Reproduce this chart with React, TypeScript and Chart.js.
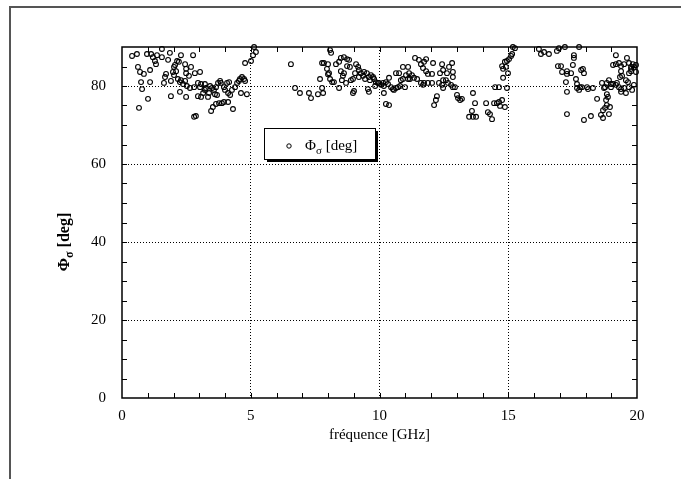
import React, { useEffect, useRef } from "react";
import { Chart, registerables } from "chart.js";

Chart.register(...registerables);

const freqGHz: number[] = [
  0.39, 0.58, 0.62, 0.7, 0.85, 0.74, 0.78, 1.01, 0.66, 0.97, 1.13, 1.2, 1.36, 1.28, 1.32, 1.09, 1.09, 1.55, 1.55, 1.79,
  1.86, 1.98, 1.71, 1.67, 1.63, 1.9, 1.9, 2.02, 2.06, 2.14, 2.21, 2.29, 2.1, 2.02, 2.17, 2.25, 2.29, 2.25, 2.37, 2.45,
  2.49, 2.49, 2.6, 2.68, 2.76, 2.45, 2.52, 2.64, 2.8, 2.49, 2.83, 3.03, 2.95, 3.07, 3.22, 3.03, 2.95, 2.8, 2.87, 3.26,
  3.22, 3.15, 3.07, 3.38, 3.34, 3.46, 3.53, 3.65, 3.77, 3.88, 3.42, 3.5, 3.57, 3.65, 3.73, 3.81, 3.84, 3.61, 3.69,
  4.08, 4.16, 3.96, 4.0, 4.12, 4.2, 4.27, 4.39, 4.47, 4.54, 4.58, 4.66, 4.74, 4.78, 4.62, 4.85, 3.96, 4.12, 4.31, 4.78,
  5.01, 5.09, 5.13, 5.2, 6.56, 6.72, 6.91, 7.26, 7.34, 7.61, 7.81, 7.77, 7.69, 7.77, 7.84, 7.96, 8.0,
  8.08, 8.12, 8.0, 8.04, 8.08, 8.16, 8.23, 8.31, 8.43, 8.5, 8.62, 8.74, 8.82, 8.74, 8.85, 8.5, 8.62, 8.58, 8.54, 8.43,
  8.89, 8.97, 9.09, 9.17, 9.05, 9.2, 9.28, 9.36, 9.2, 9.4, 9.51, 9.44, 9.59, 9.67, 9.75, 9.63, 9.79, 9.86, 9.94, 9.98,
  9.83, 10.06, 10.14, 10.17, 10.25, 10.33, 10.37, 10.45, 10.52, 10.56, 10.64, 10.72, 10.8, 10.99, 10.83, 10.91, 10.64,
  10.76, 10.91, 11.11, 11.03, 11.15, 11.26, 11.11, 11.18, 11.34, 11.46, 11.38, 11.53, 11.61, 11.73, 11.81, 11.69, 11.81,
  11.88, 11.61, 11.73, 11.88, 11.69, 8.7, 9.01, 8.97, 9.55, 9.59, 10.25, 10.37, 10.17,
  12.08, 12.04, 12.04, 12.23, 12.19, 12.12, 12.31, 12.43, 12.47, 12.47, 12.58, 12.66, 12.78, 12.85, 12.93, 12.85, 12.43,
  12.35, 12.47, 12.62, 12.7, 12.82, 12.85, 13.01, 13.05, 13.13, 13.2, 13.63, 13.71, 13.59, 13.48, 13.63, 13.75, 14.14,
  14.21, 14.29, 14.37, 14.45, 14.56, 14.64, 14.76, 14.68, 14.87, 14.49, 14.64, 14.8, 14.76, 14.8, 14.91, 14.99, 14.87,
  14.95, 15.03, 15.11, 15.15, 15.18, 15.26, 14.95,
  16.19, 16.27, 16.39, 16.58, 16.89, 16.97, 17.2, 17.75, 17.55, 17.55, 17.51, 16.93, 17.05, 17.09, 17.28, 17.28, 17.44,
  17.83, 17.9, 17.94, 17.63, 17.24, 17.28, 17.67, 17.79, 17.67, 17.86, 18.06, 18.1, 17.75, 18.29, 18.45, 18.72, 18.64,
  18.76, 18.83, 18.91, 18.99, 18.99, 19.07, 19.18, 19.22, 19.3, 19.38, 19.5, 19.57, 19.69, 19.38, 18.83, 18.87, 18.8,
  18.83, 18.68, 18.76, 18.95, 18.91, 18.6, 17.28, 18.21, 18.68, 17.94, 19.07, 19.18, 19.3, 19.38, 19.5, 19.61, 19.69,
  19.77, 19.88, 19.77, 19.84, 19.96, 19.18, 19.38, 19.42, 19.34, 19.77, 19.69, 19.57, 19.88, 19.96, 19.81, 19.65,
];

const phiDeg: number[] = [
  87.7, 88.2, 84.9, 83.6, 83.1, 81.0, 79.2, 76.7, 74.4, 88.2, 88.2, 87.4, 87.9, 86.4, 85.6, 84.1, 81.0, 89.5, 87.4, 86.7,
  88.5, 83.6, 83.1, 82.3, 80.8, 81.3, 77.4, 84.9, 85.4, 86.4, 86.2, 87.9, 83.8, 82.8, 81.8, 81.0, 81.5, 78.5, 80.5, 85.6,
  84.4, 83.3, 82.6, 84.9, 87.9, 81.3, 80.0, 79.5, 79.7, 77.2, 83.3, 83.6, 80.8, 80.5, 80.5, 79.7, 77.4, 72.1, 72.3, 79.5,
  79.0, 78.2, 77.2, 78.2, 77.2, 73.6, 74.6, 75.4, 75.6, 75.6, 80.0, 79.5, 79.0, 79.7, 80.8, 81.3, 80.8, 77.9, 77.7,
  80.8, 81.0, 79.7, 79.0, 78.2, 77.7, 79.0, 79.7, 80.8, 81.3, 81.8, 82.3, 81.8, 81.3, 78.2, 77.9, 75.9, 75.9, 74.1, 85.9,
  86.4, 87.9, 90.0, 88.7, 85.6, 79.5, 78.2, 78.2, 76.9, 77.9, 78.2, 79.5, 81.8, 85.9, 85.9, 84.4, 83.0,
  89.2, 88.5, 85.6, 83.3, 81.8, 81.0, 81.0, 85.6, 86.2, 87.2, 87.4, 86.9, 86.7, 85.1, 84.9, 83.8, 83.3, 82.6, 81.5, 79.5,
  81.5, 81.8, 85.6, 84.9, 83.3, 84.1, 83.3, 82.6, 82.3, 83.6, 83.3, 81.8, 82.3, 82.8, 82.3, 81.5, 81.8, 81.0, 80.8, 80.8,
  80.0, 80.3, 80.8, 80.0, 81.0, 80.5, 82.1, 79.7, 79.2, 79.0, 79.5, 79.7, 80.0, 79.7, 81.5, 81.8, 83.3,
  83.3, 84.9, 84.9, 82.8, 83.3, 82.8, 81.8, 81.8, 82.1, 81.8, 87.2, 86.7, 85.6, 86.2, 86.9, 84.6, 83.8,
  83.1, 80.8, 80.8, 80.8, 80.3, 80.8, 78.7, 78.2, 79.2, 78.5, 75.4, 75.1, 78.2,
  85.9, 83.1, 80.8, 77.4, 76.4, 75.1, 80.8, 80.3, 79.5, 81.5, 81.5, 80.8, 80.3, 79.7, 79.7, 82.3, 85.6,
  83.3, 84.1, 83.3, 84.9, 85.9, 83.6, 77.7, 76.9, 76.4, 76.7, 78.2, 75.6, 73.6, 72.1, 72.1, 72.1, 75.6,
  73.3, 72.8, 71.5, 75.6, 75.6, 75.9, 76.4, 74.9, 74.6, 79.7, 79.7, 82.1, 85.1, 84.4, 84.9, 83.3, 86.2,
  86.4, 86.9, 87.7, 88.2, 90.0, 89.7, 79.5,
  89.5, 88.2, 88.7, 88.2, 89.0, 89.7, 90.0, 90.0, 87.9, 87.2, 85.4, 85.1, 85.1, 83.6, 83.8, 83.1, 83.3,
  84.1, 84.4, 83.3, 81.8, 81.0, 78.5, 80.5, 79.7, 79.5, 79.7, 79.7, 79.2, 79.0, 79.5, 76.7, 79.5, 80.8,
  79.7, 80.8, 81.5, 80.5, 79.7, 80.5, 80.3, 80.8, 79.7, 79.2, 79.5, 78.2, 79.7, 78.5, 77.9, 77.2, 76.4,
  75.1, 73.8, 74.4, 74.6, 72.8, 72.6, 72.8, 72.3, 71.8, 71.3, 85.4, 85.6, 85.9, 85.1, 85.6, 87.2, 85.9,
  84.9, 84.9, 84.4, 85.6, 85.4, 87.9, 83.8, 82.6, 82.3, 83.8, 83.3, 81.5, 80.3, 83.6, 79.0, 81.0,
];

const xTickValues: number[] = [0, 5, 10, 15, 20];
const yTickValues: number[] = [0, 20, 40, 60, 80];
const xAxisTitle = "fréquence [GHz]";
const seriesMain = "Φ";
const seriesSub = "σ";
const seriesUnit = " [deg]";

const SERIF = "'Liberation Serif', 'Times New Roman', serif";

function drawPhiLabel(ctx: CanvasRenderingContext2D, size: number, bold: boolean, cx: number, cy: number, align: "center" | "left") {
  const w = bold ? "bold " : "";
  const mainFont = `${w}${size}px ${SERIF}`;
  const subFont = `${w}${Math.round(size * 0.72)}px ${SERIF}`;
  ctx.font = mainFont;
  const w1 = ctx.measureText(seriesMain).width;
  const w3 = ctx.measureText(seriesUnit).width;
  ctx.font = subFont;
  const w2 = ctx.measureText(seriesSub).width;
  const total = w1 + w2 + w3;
  let x = align === "center" ? cx - total / 2 : cx;
  ctx.textBaseline = "alphabetic";
  ctx.textAlign = "left";
  ctx.fillStyle = "#000";
  ctx.font = mainFont;
  ctx.fillText(seriesMain, x, cy);
  x += w1;
  ctx.font = subFont;
  ctx.fillText(seriesSub, x, cy + size * 0.25);
  x += w2;
  ctx.font = mainFont;
  ctx.fillText(seriesUnit, x, cy);
}

const decorPlugin = {
  id: "decor",
  beforeDraw(chart: any) {
    const ctx = chart.ctx as CanvasRenderingContext2D;
    ctx.save();
    ctx.fillStyle = "#fff";
    ctx.fillRect(0, 0, chart.width, chart.height);
    ctx.fillStyle = "#555";
    ctx.fillRect(9, 6, chart.width, 2);
    ctx.fillRect(9, 6, 2, chart.height);
    ctx.restore();
  },
  afterDraw(chart: any) {
    const ctx = chart.ctx as CanvasRenderingContext2D;
    const { left, right, top, bottom } = chart.chartArea;
    const xs = chart.scales.x;
    const ys = chart.scales.y;
    ctx.save();
    // frame
    ctx.strokeStyle = "#000";
    ctx.lineWidth = 1.5;
    ctx.strokeRect(left, top, right - left, bottom - top);
    // minor ticks
    ctx.lineWidth = 1;
    ctx.beginPath();
    for (let v = 1; v < 20; v++) {
      const px = Math.round(xs.getPixelForValue(v)) + 0.5;
      ctx.moveTo(px, bottom);
      ctx.lineTo(px, bottom - 5);
      ctx.moveTo(px, top);
      ctx.lineTo(px, top + 5);
    }
    for (let v = 5; v < 90; v += 5) {
      const py = Math.round(ys.getPixelForValue(v)) + 0.5;
      ctx.moveTo(left, py);
      ctx.lineTo(left + 5, py);
      ctx.moveTo(right, py);
      ctx.lineTo(right - 5, py);
    }
    ctx.stroke();
    // y axis title
    ctx.save();
    ctx.translate(69, 242);
    ctx.rotate(-Math.PI / 2);
    drawPhiLabel(ctx, 16, true, 0, 0, "center");
    ctx.restore();
    // legend box with shadow
    const bx = 264, by = 128, bw = 111, bh = 31;
    ctx.fillStyle = "#000";
    ctx.fillRect(bx + 3, by + 3, bw, bh);
    ctx.fillStyle = "#fff";
    ctx.fillRect(bx, by, bw, bh);
    ctx.strokeStyle = "#000";
    ctx.lineWidth = 1;
    ctx.strokeRect(bx + 0.5, by + 0.5, bw, bh);
    ctx.beginPath();
    ctx.arc(289, 146, 2.2, 0, Math.PI * 2);
    ctx.stroke();
    drawPhiLabel(ctx, 15, false, 305, 150, "left");
    ctx.restore();
  },
};

export default function App() {
  const ref = useRef<HTMLCanvasElement | null>(null);
  useEffect(() => {
    if (!ref.current) return;
    const pts = freqGHz.map((x, i) => ({ x, y: phiDeg[i] }));
    const chart = new Chart(ref.current, {
      type: "scatter",
      data: {
        datasets: [
          {
            label: seriesMain + seriesSub + seriesUnit,
            data: pts,
            pointStyle: "circle",
            pointRadius: 2.4,
            pointBorderWidth: 1.1,
            pointBorderColor: "#000",
            pointBackgroundColor: "rgba(255,255,255,0)",
            clip: 6,
          } as any,
        ],
      },
      options: {
        responsive: false,
        animation: false,
        events: [],
        layout: { padding: { left: 0, right: 44, top: 47, bottom: 35 } },
        plugins: { legend: { display: false }, tooltip: { enabled: false } },
        scales: {
          x: {
            type: "linear",
            min: 0,
            max: 20,
            afterFit: (s: any) => {
              s.height = 46;
            },
            afterBuildTicks: (s: any) => {
              s.ticks = xTickValues.map((v) => ({ value: v }));
            },
            ticks: {
              color: "#000",
              padding: 9,
              maxRotation: 0,
              font: { family: SERIF, size: 15 },
            },
            grid: {
              color: (c: any) => (c.tick && (c.tick.value === 0 || c.tick.value === 20) ? "rgba(0,0,0,0)" : "#000"),
              lineWidth: 1,
              drawTicks: false,
            },
            border: { display: false, dash: [1, 2] },
            title: {
              display: true,
              text: xAxisTitle,
              color: "#000",
              font: { family: SERIF, size: 15 },
              padding: { top: 0, bottom: 0 },
            },
          },
          y: {
            type: "linear",
            min: 0,
            max: 90,
            afterFit: (s: any) => {
              s.width = 122;
            },
            afterBuildTicks: (s: any) => {
              s.ticks = yTickValues.map((v) => ({ value: v }));
            },
            ticks: {
              color: "#000",
              padding: 16,
              font: { family: SERIF, size: 15 },
            },
            grid: {
              color: (c: any) => (c.tick && c.tick.value === 0 ? "rgba(0,0,0,0)" : "#000"),
              lineWidth: 1,
              drawTicks: false,
            },
            border: { display: false, dash: [1, 2] },
          },
        },
      } as any,
      plugins: [decorPlugin],
    });
    return () => chart.destroy();
  }, []);
  return (
    <div style={{ position: "fixed", left: 0, top: 0, width: 681, height: 479, background: "#fff" }}>
      <canvas ref={ref} width={681} height={479} style={{ width: 681, height: 479, display: "block" }} />
    </div>
  );
}
